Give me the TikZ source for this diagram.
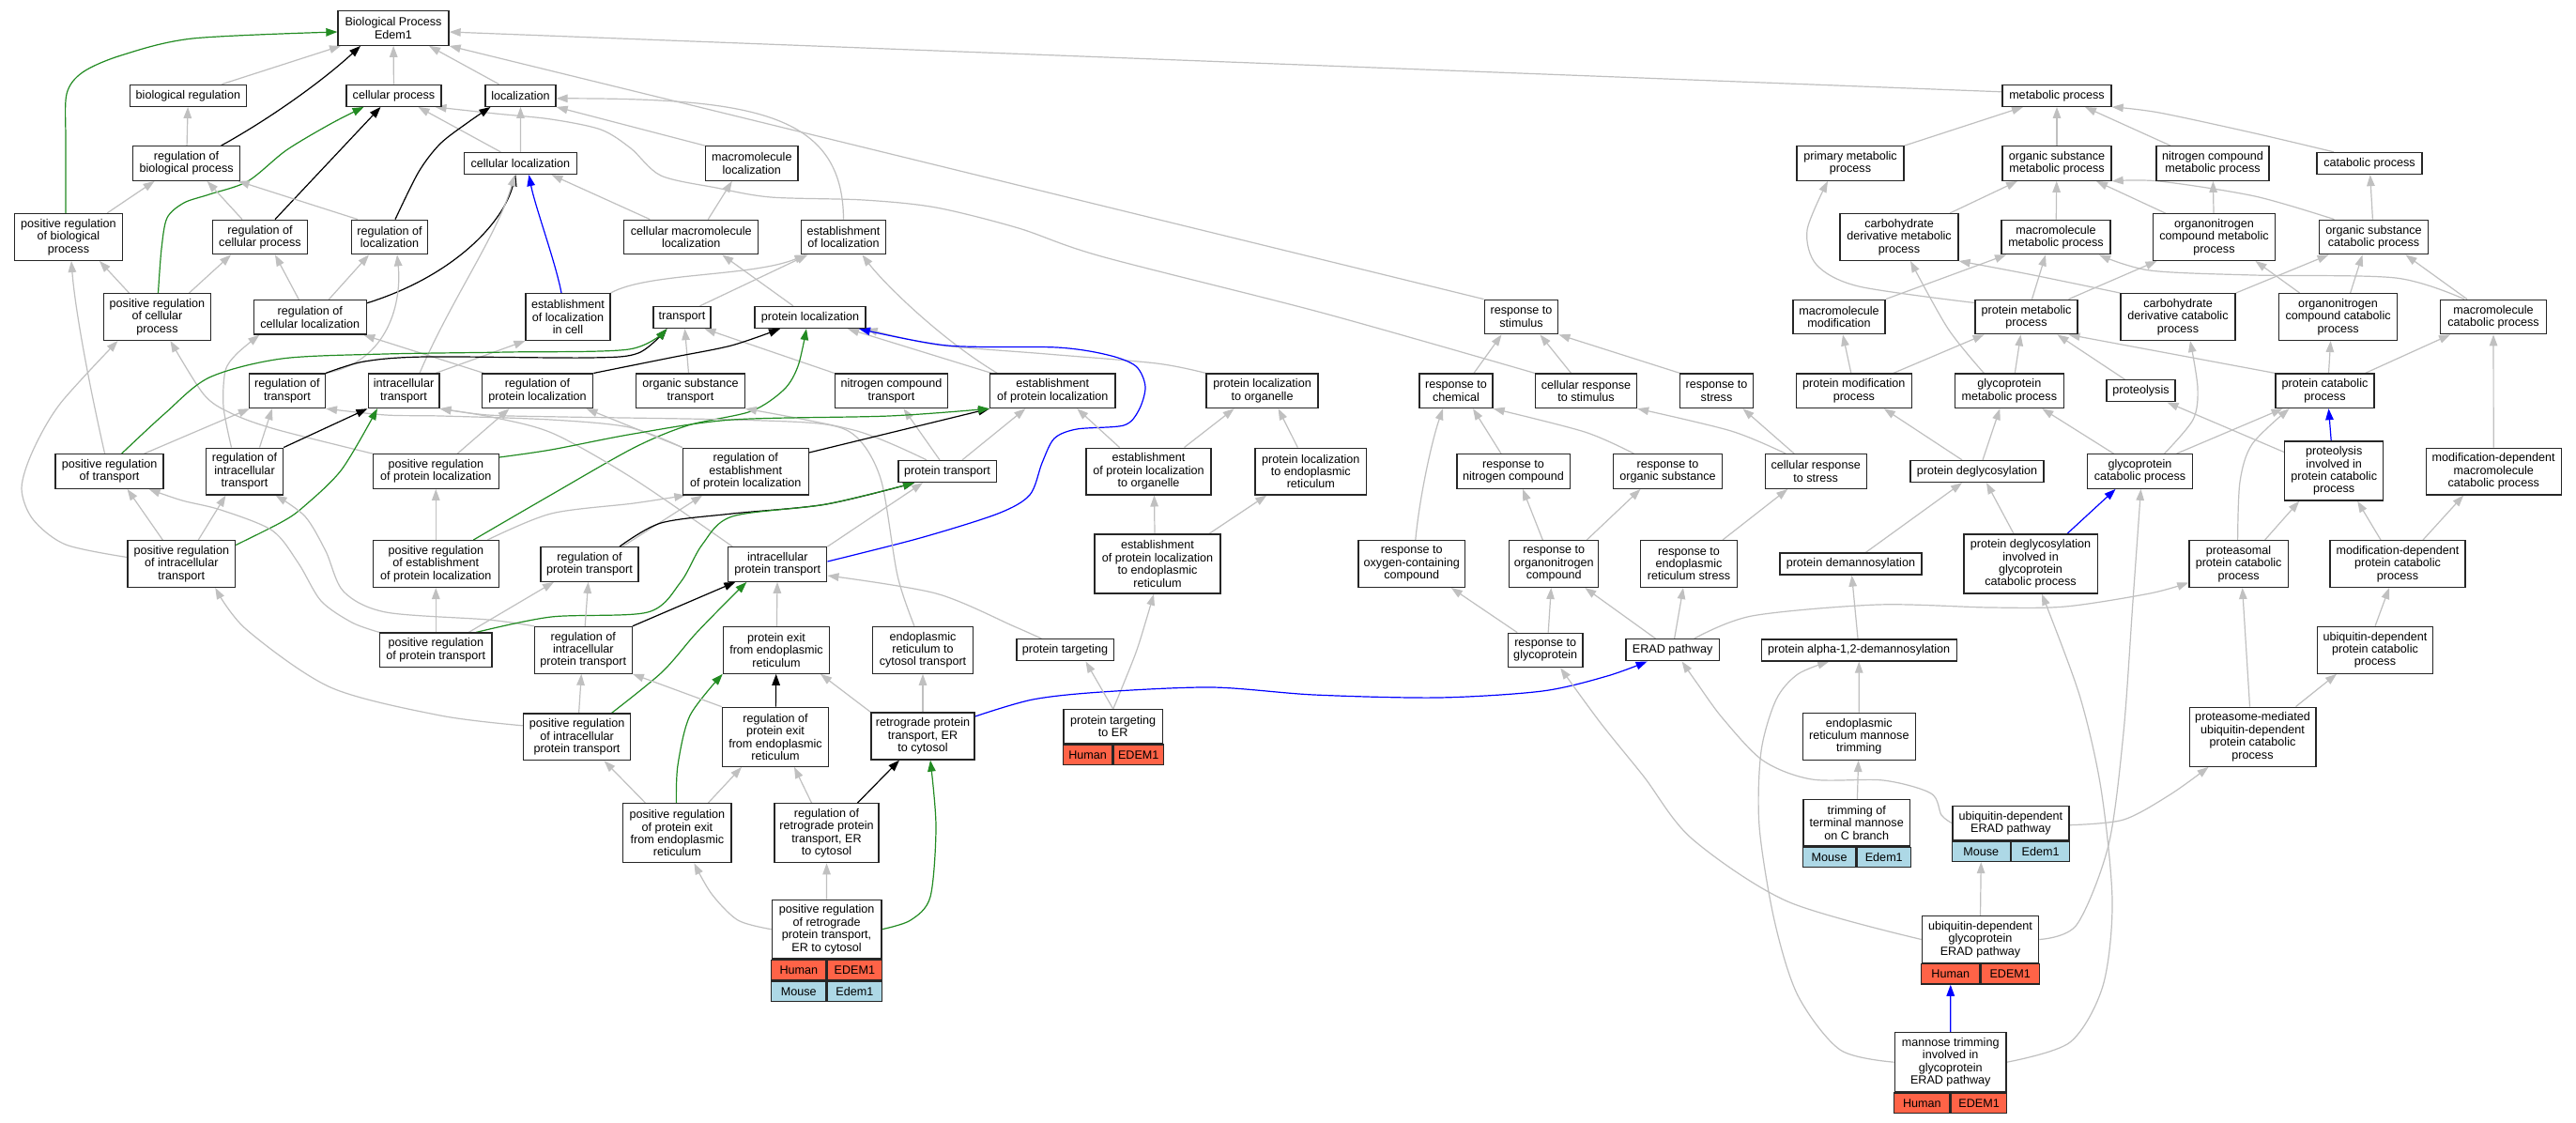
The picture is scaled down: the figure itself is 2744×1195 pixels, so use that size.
\documentclass[tikz,border=0pt]{standalone}
\usepackage{fontspec}
\setmainfont{Liberation Sans}
\usetikzlibrary{arrows.meta}
\definecolor{edgegray}{RGB}{192,192,192}
\definecolor{gogreen}{RGB}{34,139,34}
\definecolor{gored}{RGB}{255,99,71}
\definecolor{golblue}{RGB}{173,216,230}
\newcommand\gvfont{\fontsize{12.6pt}{13.4pt}\selectfont}
\newcommand\GOnode[6]{\node[box,minimum width=#4pt,minimum height=#5pt] (#1) at (#2,#3) {#6};}
\newcommand\genrow[6]{%
  \node[cell,fill=#3,minimum width=#6pt,anchor=north east] (#2a) at #1 {#4};
  \node[cell,fill=#3,minimum width=#6pt,anchor=north west] (#2b) at #1 {#5};}
\pgfdeclarelayer{bg}
\pgfdeclarelayer{edges}
\pgfsetlayers{bg,edges,main}
\tikzset{
  box/.style={draw=black!85, line width=1.3pt, fill=white, inner sep=0pt, align=center, font=\gvfont},
  cell/.style={draw=black!85, line width=1.3pt, inner sep=0pt, minimum height=21.5pt, font=\gvfont},
  eg/.style={draw=edgegray, line width=1.2pt, -{Triangle[length=12pt,width=8.5pt]}},
  ek/.style={eg, draw=black},
  egr/.style={eg, draw=gogreen},
  ebl/.style={eg, draw=blue},
}
\begin{document}
\begin{tikzpicture}[x=1pt,y=-1pt]
\useasboundingbox (0,0) rectangle (2744,1195);
\begin{pgfonlayer}{bg}
\fill[white] (0,0) rectangle (2744,1195);
\end{pgfonlayer}
% ---------------- nodes ----------------
\GOnode{bp}{419}{30}{118}{36.5}{Biological Process\\Edem1}
\GOnode{bioreg}{200.4}{101.8}{124}{23}{biological regulation}
\GOnode{cellproc}{419.5}{101.8}{101}{23}{cellular process}
\GOnode{loc}{554.5}{101.8}{75}{23}{localization}
\GOnode{metab}{2191}{101.8}{116}{23}{metabolic process}
\GOnode{regbio}{198.6}{174}{114.4}{36.5}{regulation of\\biological process}
\GOnode{cellloc}{554.4}{174}{119.7}{23}{cellular localization}
\GOnode{macloc}{800.8}{174}{98.6}{36.5}{macromolecule\\localization}
\GOnode{primary}{1971}{174}{114}{36.5}{primary metabolic\\process}
\GOnode{orgsubmet}{2191}{174}{116}{36.5}{organic substance\\metabolic process}
\GOnode{nitromet}{2357}{174}{120}{36.5}{nitrogen compound\\metabolic process}
\GOnode{catab}{2524}{174}{112}{23}{catabolic process}
\GOnode{posregbio}{73}{252.5}{114.4}{49.7}{positive regulation\\of biological\\process}
\GOnode{regcell}{277}{252.5}{101}{36.5}{regulation of\\cellular process}
\GOnode{regloc}{415}{252.5}{81.6}{36.5}{regulation of\\localization}
\GOnode{cellmacloc}{736.3}{252.5}{143}{36.5}{cellular macromolecule\\localization}
\GOnode{estloc}{898.5}{252.5}{89.8}{36.5}{establishment\\of localization}
\GOnode{carbmet}{2023}{252.5}{126}{49.7}{carbohydrate\\derivative metabolic\\process}
\GOnode{macmet}{2190}{252.5}{116}{36.5}{macromolecule\\metabolic process}
\GOnode{orgnitmet}{2358.5}{252.5}{129.4}{49.7}{organonitrogen\\compound metabolic\\process}
\GOnode{orgsubcat}{2528.5}{252.5}{115.6}{36.5}{organic substance\\catabolic process}
\GOnode{posregcell}{167.5}{337.5}{114.4}{49.7}{positive regulation\\of cellular\\process}
\GOnode{regcellloc}{330.3}{337.8}{119.7}{36.5}{regulation of\\cellular localization}
\GOnode{estlocincell}{605}{337.5}{89.8}{49.7}{establishment\\of localization\\in cell}
\GOnode{transport}{726.5}{338}{61}{23}{transport}
\GOnode{protloc}{863}{338}{118}{23}{protein localization}
\GOnode{respstim}{1620.5}{337.5}{78.6}{36.5}{response to\\stimulus}
\GOnode{macmod}{1959}{337.5}{98}{36.5}{macromolecule\\modification}
\GOnode{protmet}{2158.5}{337.5}{109}{36.5}{protein metabolic\\process}
\GOnode{carbcat}{2320}{337.5}{122.2}{49.7}{carbohydrate\\derivative catabolic\\process}
\GOnode{orgnitcat}{2490.6}{337.5}{126.4}{49.7}{organonitrogen\\compound catabolic\\process}
\GOnode{maccat}{2656}{337.5}{112.6}{36.5}{macromolecule\\catabolic process}
\GOnode{regtrans}{305.9}{416.3}{81}{36.5}{regulation of\\transport}
\GOnode{intratrans}{430}{416.3}{75.7}{36.5}{intracellular\\transport}
\GOnode{regprotloc}{572.5}{416.3}{118.5}{36.5}{regulation of\\protein localization}
\GOnode{orgsubtrans}{735.5}{416.3}{115.6}{36.5}{organic substance\\transport}
\GOnode{nitrotrans}{949.5}{416.3}{120.3}{36.5}{nitrogen compound\\transport}
\GOnode{estprotloc}{1121.3}{416.3}{133.2}{36.5}{establishment\\of protein localization}
\GOnode{protlocorg}{1344.6}{416.3}{119}{36.5}{protein localization\\to organelle}
\GOnode{respchem}{1551}{416.3}{78}{36.5}{response to\\chemical}
\GOnode{cellrespstim}{1689.5}{416.3}{108}{36.5}{cellular response\\to stimulus}
\GOnode{respstress}{1828.5}{416.3}{78.6}{36.5}{response to\\stress}
\GOnode{protmod}{1974.8}{416.3}{123.2}{36.5}{protein modification\\process}
\GOnode{glycometab}{2140.3}{416.3}{115.8}{36.5}{glycoprotein\\metabolic process}
\GOnode{proteolysis}{2280.5}{416.3}{73.2}{23}{proteolysis}
\GOnode{protcat}{2476.5}{416.3}{105}{36.5}{protein catabolic\\process}
\GOnode{posregtrans}{116.6}{502}{115}{36.5}{positive regulation\\of transport}
\GOnode{regintratrans}{260.5}{502}{82.1}{49.7}{regulation of\\intracellular\\transport}
\GOnode{posregprotloc}{464.3}{502}{133.8}{36.5}{positive regulation\\of protein localization}
\GOnode{regestprotloc}{794.3}{502}{133.8}{49.7}{regulation of\\establishment\\of protein localization}
\GOnode{prottrans}{1009}{502}{104.3}{23}{protein transport}
\GOnode{estprotlocorg}{1223.5}{502}{133.2}{49.7}{establishment\\of protein localization\\to organelle}
\GOnode{protlocer}{1396.3}{502}{118.5}{49.7}{protein localization\\to endoplasmic\\reticulum}
\GOnode{respnitro}{1612}{502}{120.3}{36.5}{response to\\nitrogen compound}
\GOnode{resporg}{1776.5}{502}{115.6}{36.5}{response to\\organic substance}
\GOnode{cellrespstress}{1934.2}{502}{108}{36.5}{cellular response\\to stress}
\GOnode{protdeglyc}{2106}{502}{142}{23}{protein deglycosylation}
\GOnode{glycocat}{2279.5}{502}{111.4}{36.5}{glycoprotein\\catabolic process}
\GOnode{proteolinv}{2486.2}{501.5}{105}{63}{proteolysis\\involved in\\protein catabolic\\process}
\GOnode{moddepmaccat}{2656.2}{502}{144.1}{49.7}{modification-dependent\\macromolecule\\catabolic process}
\GOnode{posregintratrans}{193.3}{600.5}{114.4}{49.7}{positive regulation\\of intracellular\\transport}
\GOnode{posregestprotloc}{464.3}{600.5}{133.8}{49.7}{positive regulation\\of establishment\\of protein localization}
\GOnode{regprottrans}{628}{601}{103.8}{36.5}{regulation of\\protein transport}
\GOnode{intraprottrans}{828.3}{601}{105}{36.5}{intracellular\\protein transport}
\GOnode{estprotlocer}{1233}{600.5}{133.8}{63}{establishment\\of protein localization\\to endoplasmic\\reticulum}
\GOnode{respoxy}{1503.8}{600.5}{113.8}{49.7}{response to\\oxygen-containing\\compound}
\GOnode{resporgnitro}{1655.3}{600.5}{95}{49.7}{response to\\organonitrogen\\compound}
\GOnode{resperstress}{1799}{600.5}{102.7}{49.7}{response to\\endoplasmic\\reticulum stress}
\GOnode{protdeman}{1971.4}{600.5}{150.9}{23}{protein demannosylation}
\GOnode{protdeglycinv}{2163}{600.5}{142.3}{63}{protein deglycosylation\\involved in\\glycoprotein\\catabolic process}
\GOnode{proteasomal}{2384.6}{600.5}{105.5}{49.7}{proteasomal\\protein catabolic\\process}
\GOnode{moddepprotcat}{2554}{600.5}{144.1}{49.7}{modification-dependent\\protein catabolic\\process}
\GOnode{posregprottrans}{464.3}{692.3}{119.1}{36.5}{positive regulation\\of protein transport}
\GOnode{regintraprottrans}{621.3}{692.3}{103.8}{49.7}{regulation of\\intracellular\\protein transport}
\GOnode{protexit}{827}{692.3}{113.2}{49.7}{protein exit\\from endoplasmic\\reticulum}
\GOnode{ercyto}{983}{692.3}{106.8}{49.7}{endoplasmic\\reticulum to\\cytosol transport}
\GOnode{prottarg}{1134.5}{692.3}{103.3}{23}{protein targeting}
\GOnode{respglyco}{1646.2}{692.5}{79.8}{36.5}{response to\\glycoprotein}
\GOnode{erad}{1781.6}{692.3}{99.1}{23}{ERAD pathway}
\GOnode{alpha}{1980.2}{692.5}{208}{23}{protein alpha-1,2-demannosylation}
\GOnode{ubiqprotcat}{2530}{692.3}{122.6}{49.7}{ubiquitin-dependent\\protein catabolic\\process}
\GOnode{posregintraprottrans}{614.6}{784.8}{114.4}{49.7}{positive regulation\\of intracellular\\protein transport}
\GOnode{regprotexit}{826}{784.8}{113.2}{63}{regulation of\\protein exit\\from endoplasmic\\reticulum}
\GOnode{retro}{983}{784}{110}{50}{retrograde protein\\transport, ER\\to cytosol}
\GOnode{prottargER}{1185.7}{773.7}{105.6}{36}{protein targeting\\to ER}
\genrow{(prottargER.south)}{prottargERH}{gored}{Human}{EDEM1}{52.8}
\GOnode{ermantrim}{1980.3}{784.3}{120}{50}{endoplasmic\\reticulum mannose\\trimming}
\GOnode{proteasomemed}{2399.5}{784.7}{134.7}{63}{proteasome-mediated\\ubiquitin-dependent\\protein catabolic\\process}
\GOnode{posregprotexit}{721.4}{887.2}{115.2}{63}{positive regulation\\of protein exit\\from endoplasmic\\reticulum}
\GOnode{regretro}{880.5}{887.2}{111.2}{63}{regulation of\\retrograde protein\\transport, ER\\to cytosol}
\GOnode{trimC}{1977.7}{876.3}{113.7}{49.3}{trimming of\\terminal mannose\\on C branch}
\genrow{(trimC.south)}{trimCM}{golblue}{Mouse}{Edem1}{56.85}
\GOnode{ubiqerad}{2141.9}{876.7}{124}{36}{ubiquitin-dependent\\ERAD pathway}
\genrow{(ubiqerad.south)}{ubiqeradM}{golblue}{Mouse}{Edem1}{62}
\GOnode{posregretro}{880.6}{989.7}{116.5}{62.7}{positive regulation\\of retrograde\\protein transport,\\ER to cytosol}
\genrow{(posregretro.south)}{posregretroH}{gored}{Human}{EDEM1}{58.25}
\genrow{(posregretroHa.south east)}{posregretroM}{golblue}{Mouse}{Edem1}{58.25}
\GOnode{ubiqglycoerad}{2109.5}{1000.5}{124.4}{49.6}{ubiquitin-dependent\\glycoprotein\\ERAD pathway}
\genrow{(ubiqglycoerad.south)}{ubiqglycoeradH}{gored}{Human}{EDEM1}{62.2}
\GOnode{mantrim}{2077.7}{1131.2}{118.8}{63}{mannose trimming\\involved in\\glycoprotein\\ERAD pathway}
\genrow{(mantrim.south)}{mantrimH}{gored}{Human}{EDEM1}{59.4}
% ---------------- edges ----------------
\begin{pgfonlayer}{edges}
% into Biological Process
\draw[eg] ([xshift=36]bioreg.north) -- ([xshift=-56]bp.south);
\draw[ek] ([xshift=37]regbio.north) .. controls (290,125) and (345,85) .. ([xshift=-35]bp.south);
\draw[egr] plot[smooth] coordinates {([xshift=-3]posregbio.north) (70,150) (71,100) (88,77) (129,59) (205,41) ([yshift=-4]bp.west)};
\draw[eg] (cellproc) -- (bp);
\draw[eg] ([xshift=-23]loc.north) -- ([xshift=38]bp.south);
\draw[eg] ([yshift=4]metab.west) -- ([yshift=-4]bp.east);
\draw[eg] (respstim.north west) -- (bp.south east);
\draw[eg] (regbio) -- (bioreg);
% cellular process
\draw[egr] plot[smooth] coordinates {([xshift=1]posregcell.north) (172,265) (178,232) (196,216) (223,207) (264,193) (305,160) (352,132) ([xshift=-32]cellproc.south)};
\draw[ek] ([xshift=16]regcell.north) -- ([xshift=-14]cellproc.south);
\draw[eg] ([xshift=-21]cellloc.north) -- ([xshift=26]cellproc.south);
\draw[eg] plot[smooth] coordinates {(cellrespstim.north west) (1408,333) (1173,273) (1085,243) (997,221) (920,213) (821,210) (763,200) (704,187) (672,158) (640,138) (587,127) (528,121) ([xshift=44]cellproc.south)};
% localization
\draw[ek] plot[smooth] coordinates {([xshift=6]regloc.north) (446,183) (469,153) (499,130) ([xshift=-32]loc.south)};
\draw[eg] (cellloc) -- (loc);
\draw[eg] ([xshift=-50]macloc.north) -- (loc.south east);
\draw[eg] (estloc.north) .. controls (898,120) and (800,105) .. ([yshift=-3]loc.east);
% regulation of biological process
\draw[eg] ([xshift=41]posregbio.north) -- ([xshift=-34]regbio.south);
\draw[eg] ([xshift=-19]regcell.north) -- ([xshift=22]regbio.south);
\draw[eg] ([xshift=-34]regloc.north) -- ([xshift=55]regbio.south);
% cellular localization
\draw[ek] ([yshift=15]regcellloc.east) .. controls (480,295) and (535,240) .. ([xshift=-5]cellloc.south);
\draw[ebl] ([xshift=-7]estlocincell.north) .. controls (592,280) and (570,220) .. ([xshift=9]cellloc.south);
\draw[eg] ([xshift=17]intratrans.north) .. controls (480,320) and (530,250) .. ([xshift=-6]cellloc.south);
\draw[eg] ([xshift=-44]cellmacloc.north) -- ([xshift=33]cellloc.south);
\draw[eg] ([xshift=18]cellmacloc.north) -- ([xshift=-21]macloc.south);
% positive regulation of biological process
\draw[eg] ([xshift=-5]posregtrans.north) .. controls (95,410) and (80,330) .. ([xshift=3]posregbio.south);
\draw[eg] ([xshift=-30]posregcell.north) -- ([xshift=33]posregbio.south);
% regulation of cellular process / localization
\draw[eg] ([xshift=34]posregcell.north) -- ([xshift=-31]regcell.south);
\draw[eg] ([xshift=-12]regcellloc.north) -- ([xshift=16]regcell.south);
\draw[eg] ([xshift=20]regcellloc.north) -- ([xshift=-22]regloc.south);
\draw[eg] (regtrans.north east) .. controls (415,385) and (428,320) .. ([xshift=8]regloc.south);
\draw[eg] ([xshift=-18]protloc.north) -- ([xshift=33]cellmacloc.south);
% establishment of localization
\draw[eg] (estlocincell.north east) .. controls (690,290) and (800,295) .. ([xshift=-40]estloc.south);
\draw[eg] ([xshift=19]transport.north) -- ([xshift=-38]estloc.south);
\draw[eg] ([xshift=-59]estprotloc.north) .. controls (1000,360) and (940,300) .. ([xshift=20]estloc.south);
% positive regulation of cellular process
\draw[eg] plot[smooth] coordinates {([yshift=7]posregintratrans.west) (70,580) (35,553) (23,520) (35,480) (64,430) ([xshift=-42]posregcell.south)};
\draw[eg] plot[smooth] coordinates {(posregprotloc.north west) (293,457) (246,440) (217,420) ([xshift=14]posregcell.south)};
% regulation of cellular localization
\draw[eg] plot[smooth] coordinates {([xshift=-14]regintratrans.north) (238,433) (240,395) (252,377) ([xshift=-54]regcellloc.south)};
\draw[eg] ([xshift=-57]regprotloc.north) -- ([xshift=57]regcellloc.south);
\draw[eg] ([xshift=34]intratrans.north) -- (estlocincell.south west);
% transport
\draw[ek] plot[smooth] coordinates {(regtrans.north east) (388,385) (453,380) (627,381) (680,376) ([xshift=-16]transport.south)};
\draw[egr] plot[smooth] coordinates {([xshift=13]posregtrans.north) (176,440) (223,402) (300,382) (410,377) (540,375) (670,372) ([xshift=-16]transport.south)};
\draw[eg] ([xshift=-2]orgsubtrans.north) -- ([xshift=3]transport.south);
\draw[eg] (nitrotrans.north west) -- ([xshift=24]transport.south);
% protein localization
\draw[ek] plot[smooth] coordinates {(regprotloc.north east) (714,381) (779,368) ([xshift=-32]protloc.south)};
\draw[egr] plot[smooth] coordinates {([xshift=40]posregestprotloc.north) (587,527) (675,477) (733,453) (800,438) (835,415) (850,390) ([xshift=-4]protloc.south)};
\draw[eg] ([xshift=-65]estprotloc.north) -- ([xshift=40]protloc.south);
\draw[eg] plot[smooth] coordinates {(protlocorg.north west) (1232,387) (1115,377) (997,367) (protloc.south east)};
\draw[ebl] plot[smooth] coordinates {([yshift=3]intraprottrans.east) (980,573) (1063,547) (1097,527) (1110,493) (1123,467) (1147,457) (1197,453) (1213,437) (1220,412) (1210,390) (1180,378) (1126,370) (1009,368) ([xshift=52]protloc.south)};
% response to stimulus
\draw[eg] ([xshift=19]respchem.north) -- ([xshift=-21]respstim.south);
\draw[eg] ([xshift=-16]cellrespstim.north) -- ([xshift=20]respstim.south);
\draw[eg] ([xshift=-39]respstress.north) -- (respstim.south east);
% regulation of transport
\draw[eg] ([xshift=37]posregtrans.north) -- ([xshift=-40]regtrans.south);
\draw[eg] ([xshift=16]regintratrans.north) -- ([xshift=-16]regtrans.south);
\draw[eg] plot[smooth] coordinates {(regestprotloc.north west) (670,455) (587,447) (470,443) (411,442) (regtrans.south east)};
% intracellular transport
\draw[ek] (regintratrans.north east) -- (intratrans.south west);
\draw[egr] plot[smooth] coordinates {([yshift=20]posregintratrans.east) (300,556) (323,540) (364,500) ([xshift=-28]intratrans.south)};
\draw[eg] plot[smooth] coordinates {([xshift=-9]ercyto.north) (956,613) (939,513) (915,468) (880,452) (780,447) (600,444) (520,442) (intratrans.south east)};
\draw[eg] plot[smooth] coordinates {([xshift=-48]intraprottrans.north) (675,510) (590,462) (528,445) (intratrans.south east)};
% regulation of protein localization
\draw[eg] ([xshift=23]posregprotloc.north) -- ([xshift=-30]regprotloc.south);
\draw[eg] (regestprotloc.north west) -- ([xshift=52]regprotloc.south);
\draw[eg] plot[smooth] coordinates {([xshift=-22]prottrans.north) (913,459) (orgsubtrans.south east)};
\draw[eg] ([xshift=-8]prottrans.north) -- ([xshift=13]nitrotrans.south);
% establishment of protein localization
\draw[ek] ([yshift=20]regestprotloc.east) -- (estprotloc.south west);
\draw[egr] plot[smooth] coordinates {([yshift=15]posregprotloc.east) (587,479) (675,462) (780,447) (947,443) (estprotloc.south west)};
\draw[eg] ([xshift=16]prottrans.north) -- ([xshift=-29]estprotloc.south);
\draw[eg] ([xshift=-31]estprotlocorg.north) -- ([xshift=26]estprotloc.south);
\draw[eg] ([xshift=38]estprotlocorg.north) -- ([xshift=-30]protlocorg.south);
\draw[eg] ([xshift=-14]protlocer.north) -- ([xshift=17]protlocorg.south);
% responses
\draw[eg] ([xshift=4]respoxy.north) .. controls (1512,530) and (1525,470) .. ([xshift=-14]respchem.south);
\draw[eg] ([xshift=-13]respnitro.north) -- ([xshift=18]respchem.south);
\draw[eg] plot[smooth] coordinates {([xshift=-36]resporg.north) (1688,460) (respchem.south east)};
\draw[eg] plot[smooth] coordinates {([xshift=-32]cellrespstress.north) (1844,459) (cellrespstim.south east)};
\draw[eg] ([xshift=-23]cellrespstress.north) -- ([xshift=28]respstress.south);
% protein modification etc.
\draw[eg] ([xshift=-16]protdeglyc.north) -- ([xshift=32]protmod.south);
\draw[eg] ([xshift=6]protdeglyc.north) -- ([xshift=-10]glycometab.south);
\draw[eg] ([xshift=-28]glycocat.north) -- ([xshift=35]glycometab.south);
\draw[eg] ([yshift=20]proteolinv.west) -- ([xshift=28]proteolysis.south);
\draw[eg] ([xshift=39]glycocat.north) -- ([xshift=-45]protcat.south);
\draw[eg] plot[smooth] coordinates {([xshift=-1]proteasomal.north) (2386,513) (2399,473) ([xshift=-38]protcat.south)};
\draw[ebl] ([xshift=-3]proteolinv.north) -- ([xshift=4]protcat.south);
% positive regulation of transport
\draw[eg] ([xshift=-20]posregintratrans.north) -- ([xshift=19]posregtrans.south);
\draw[eg] plot[smooth] coordinates {(posregprottrans.north west) (375,663) (342,640) (318,600) (290,565) (235,543) (194,533) ([xshift=42]posregtrans.south)};
\draw[eg] ([xshift=18]posregintratrans.north) -- ([xshift=-20]regintratrans.south);
\draw[eg] plot[smooth] coordinates {(regintraprottrans.north west) (520,660) (411,652) (366,630) (347,587) (325,550) ([xshift=33]regintratrans.south)};
\draw[eg] (posregestprotloc) -- (posregprotloc);
\draw[eg] plot[smooth] coordinates {([xshift=55]posregestprotloc.north) (587,547) (675,536) ([xshift=-64]regestprotloc.south)};
\draw[eg] ([xshift=35]regprottrans.north) -- ([xshift=-46]regestprotloc.south);
% protein transport
\draw[ek] plot[smooth] coordinates {([xshift=32]regprottrans.north) (704,557) (780,547) (880,537) ([xshift=-35]prottrans.south)};
\draw[egr] plot[smooth] coordinates {([xshift=43]posregprottrans.north) (587,657) (690,652) (725,620) (748,580) (780,550) (880,537) ([xshift=-35]prottrans.south)};
\draw[eg] (intraprottrans.north east) -- ([xshift=-26]prottrans.south);
\draw[eg] ([xshift=-3]estprotlocer.north) -- ([xshift=6]estprotlocorg.south);
\draw[eg] ([xshift=55]estprotlocer.north) -- ([xshift=-47]protlocer.south);
\draw[eg] ([xshift=-12]resporgnitro.north) -- ([xshift=10]respnitro.south);
\draw[eg] ([xshift=35]resporgnitro.north) -- ([xshift=-29]resporg.south);
\draw[eg] ([xshift=36]resperstress.north) -- ([xshift=-30]cellrespstress.south);
\draw[eg] ([xshift=16]protdeman.north) -- ([xshift=-16]protdeglyc.south);
\draw[eg] ([xshift=-18]protdeglycinv.north) -- ([xshift=10]protdeglyc.south);
\draw[ebl] ([xshift=39]protdeglycinv.north) -- ([xshift=-26]glycocat.south);
\draw[eg] plot[smooth] coordinates {(ubiqglycoerad.east) (2212,985) (2246,900) (2262,780) (2272,640) ([xshift=1]glycocat.south)};
\draw[eg] ([xshift=28]proteasomal.north) -- ([xshift=-37]proteolinv.south);
\draw[eg] ([xshift=-18]moddepprotcat.north) -- ([xshift=25]proteolinv.south);
\draw[eg] ([xshift=27]moddepprotcat.north) -- ([xshift=-32]moddepmaccat.south);
% lower left
\draw[eg] plot[smooth] coordinates {([yshift=12]posregintraprottrans.west) (469,762) (352,732) (262,670) ([xshift=36]posregintratrans.south)};
\draw[eg] (posregprottrans) -- (posregestprotloc);
\draw[eg] ([xshift=35]posregprottrans.north) -- ([xshift=-38]regprottrans.south);
\draw[eg] (regintraprottrans) -- (regprottrans);
\draw[ek] (regintraprottrans.north east) -- ([xshift=-45]intraprottrans.south);
\draw[egr] plot[smooth] coordinates {([xshift=37]posregintraprottrans.north) (705,716) (740,676) (770,645) ([xshift=-33]intraprottrans.south)};
\draw[eg] (protexit) -- (intraprottrans);
\draw[eg] plot[smooth] coordinates {([xshift=-25]prottarg.north) (1080,667) (997,632) ([yshift=-12]intraprottrans.east)};
\draw[eg] plot[smooth] coordinates {(prottargER.north) (1192,740) (1210,695) (1221,660) ([xshift=-4]estprotlocer.south)};
\draw[eg] ([xshift=-30]respglyco.north) -- ([xshift=42]respoxy.south);
\draw[eg] ([xshift=3]respglyco.north) -- ([xshift=-3]resporgnitro.south);
\draw[eg] ([xshift=-18]erad.north) -- ([xshift=33]resporgnitro.south);
\draw[eg] ([xshift=2]erad.north) -- ([xshift=-6]resperstress.south);
\draw[eg] (alpha) -- (protdeman);
\draw[eg] plot[smooth] coordinates {(mantrim.east) (2205,1110) (2240,1050) (2250,960) (2238,840) (2215,740) ([xshift=12]protdeglycinv.south)};
\draw[eg] plot[smooth] coordinates {([xshift=23]erad.north) (1866,656) (2000,644) (2120,647) (2200,646) (2290,632) ([yshift=-20]proteasomal.west)};
\draw[eg] ([xshift=-3]proteasomemed.north) -- ([xshift=4]proteasomal.south);
\draw[eg] (ubiqprotcat.north) -- ([xshift=-9]moddepprotcat.south);
\draw[eg] ([xshift=46]proteasomemed.north) -- ([xshift=-41]ubiqprotcat.south);
\draw[ebl] plot[smooth] coordinates {([yshift=21]retro.east) (1100,745) (1173,737) (1291,732) (1400,740) (1532,743) (1643,736) (1712,720) ([xshift=-27]erad.south)};
\draw[eg] plot[smooth] coordinates {(ubiqerad.west) (2068,868) (2057,845) (2006,831) (1930,830) (1878,810) (1835,765) (1808,728) ([xshift=10]erad.south)};
\draw[eg] plot[smooth] coordinates {(ubiqglycoerad.west) (1904,960) (1802,893) (1751,827) (1705,770) ([xshift=16]respglyco.south)};
\draw[eg] (ermantrim) -- (alpha);
\draw[eg] plot[smooth] coordinates {(mantrim.west) (1960,1118) (1915,1060) (1890,980) (1874,880) (1876,800) (1892,745) (1915,718) ([xshift=-32]alpha.south)};
\draw[eg] (trimC) -- (ermantrim);
\draw[eg] (ubiqglycoerad.north) -- (ubiqeradMa.south);
\draw[ebl] (mantrim.north) -- (ubiqglycoeradHa.south);
\draw[eg] plot[smooth] coordinates {([yshift=-2]ubiqerad.east) (2262,873) (2312,846) ([xshift=-47]proteasomemed.south)};
\draw[eg] (retro) -- (ercyto);
\draw[ek] (regprotexit) -- (protexit);
\draw[egr] plot[smooth] coordinates {([xshift=-1]posregprotexit.north) (722,815) (735,762) (protexit.south west)};
\draw[eg] (retro.north west) -- ([xshift=47]protexit.south);
\draw[eg] (prottargER.north) -- ([xshift=22]prottarg.south);
\draw[eg] ([xshift=-34]posregprotexit.north) -- ([xshift=29]posregintraprottrans.south);
\draw[eg] ([xshift=2]posregintraprottrans.north) -- ([xshift=-2]regintraprottrans.south);
\draw[eg] (regprotexit.north west) -- (regintraprottrans.south east);
\draw[eg] ([xshift=33]posregprotexit.north) -- ([xshift=-36]regprotexit.south);
\draw[eg] ([xshift=-16]regretro.north) -- ([xshift=20]regprotexit.south);
\draw[ek] ([xshift=33]regretro.north) -- ([xshift=-25]retro.south);
\draw[egr] plot[smooth] coordinates {(posregretro.east) (970,980) (991,955) (997,880) ([xshift=8]retro.south)};
\draw[eg] plot[smooth] coordinates {(posregretro.west) (786,980) (758,952) ([xshift=18]posregprotexit.south)};
\draw[eg] (posregretro) -- (regretro);
% metabolic part
\draw[eg] (primary.north east) -- ([xshift=-36]metab.south);
\draw[eg] (orgsubmet) -- (metab);
\draw[eg] ([xshift=-45]nitromet.north) -- ([xshift=30]metab.south);
\draw[eg] plot[smooth] coordinates {([xshift=-38]catab.north) (2402,142) (2300,120) (metab.south east)};
\draw[eg] ([xshift=54]carbmet.north) -- ([xshift=-42]orgsubmet.south);
\draw[eg] (macmet) -- (orgsubmet);
\draw[eg] ([xshift=-52]orgnitmet.north) -- ([xshift=42]orgsubmet.south);
\draw[eg] plot[smooth] coordinates {([xshift=-42]orgsubcat.north) (2402,209) (2300,193) (orgsubmet.south east)};
\draw[eg] (orgnitmet) -- (nitromet);
\draw[eg] (orgsubcat) -- (catab);
\draw[eg] plot[smooth] coordinates {([xshift=-27]glycometab.north) (2075,350) ([xshift=12]carbmet.south)};
\draw[eg] plot[smooth] coordinates {(carbcat.north west) (2161,292) (carbmet.south east)};
\draw[eg] (macmod.north east) -- ([xshift=-53]macmet.south);
\draw[eg] ([xshift=6]protmet.north) -- ([xshift=-11]macmet.south);
\draw[eg] plot[smooth] coordinates {([xshift=-31]maccat.north) (2552,296) (2400,293) (2290,288) ([xshift=46]macmet.south)};
\draw[eg] ([xshift=45]protmet.north) -- ([xshift=-61]orgnitmet.south);
\draw[eg] ([xshift=-41]orgnitcat.north) -- ([xshift=44]orgnitmet.south);
\draw[eg] (carbcat.north east) -- ([xshift=-48]orgsubcat.south);
\draw[eg] ([xshift=13]orgnitcat.north) -- ([xshift=-12]orgsubcat.south);
\draw[eg] ([xshift=-28]maccat.north) -- ([xshift=34]orgsubcat.south);
\draw[eg] plot[smooth] coordinates {([yshift=15]protmet.west) (1980,305) (1935,282) (1925,245) ([xshift=-24]primary.south)};
\draw[eg] ([xshift=-3]protmod.north) -- ([xshift=4]macmod.south);
\draw[eg] ([xshift=42]protmod.north) -- ([xshift=-45]protmet.south);
\draw[eg] ([xshift=6]glycometab.north) -- ([xshift=-6]protmet.south);
\draw[eg] ([xshift=-17]proteolysis.north) -- ([xshift=33]protmet.south);
\draw[eg] (protcat.north west) -- ([xshift=45]protmet.south);
\draw[eg] plot[smooth] coordinates {([xshift=26]glycocat.north) (2336,447) (2341,413) ([xshift=13]carbcat.south)};
\draw[eg] ([xshift=4]protcat.north) -- ([xshift=-8]orgnitcat.south);
\draw[eg] ([xshift=43]protcat.north) -- ([xshift=-46]maccat.south);
\draw[eg] (moddepmaccat) -- (maccat);
\end{pgfonlayer}
\end{tikzpicture}
\end{document}
